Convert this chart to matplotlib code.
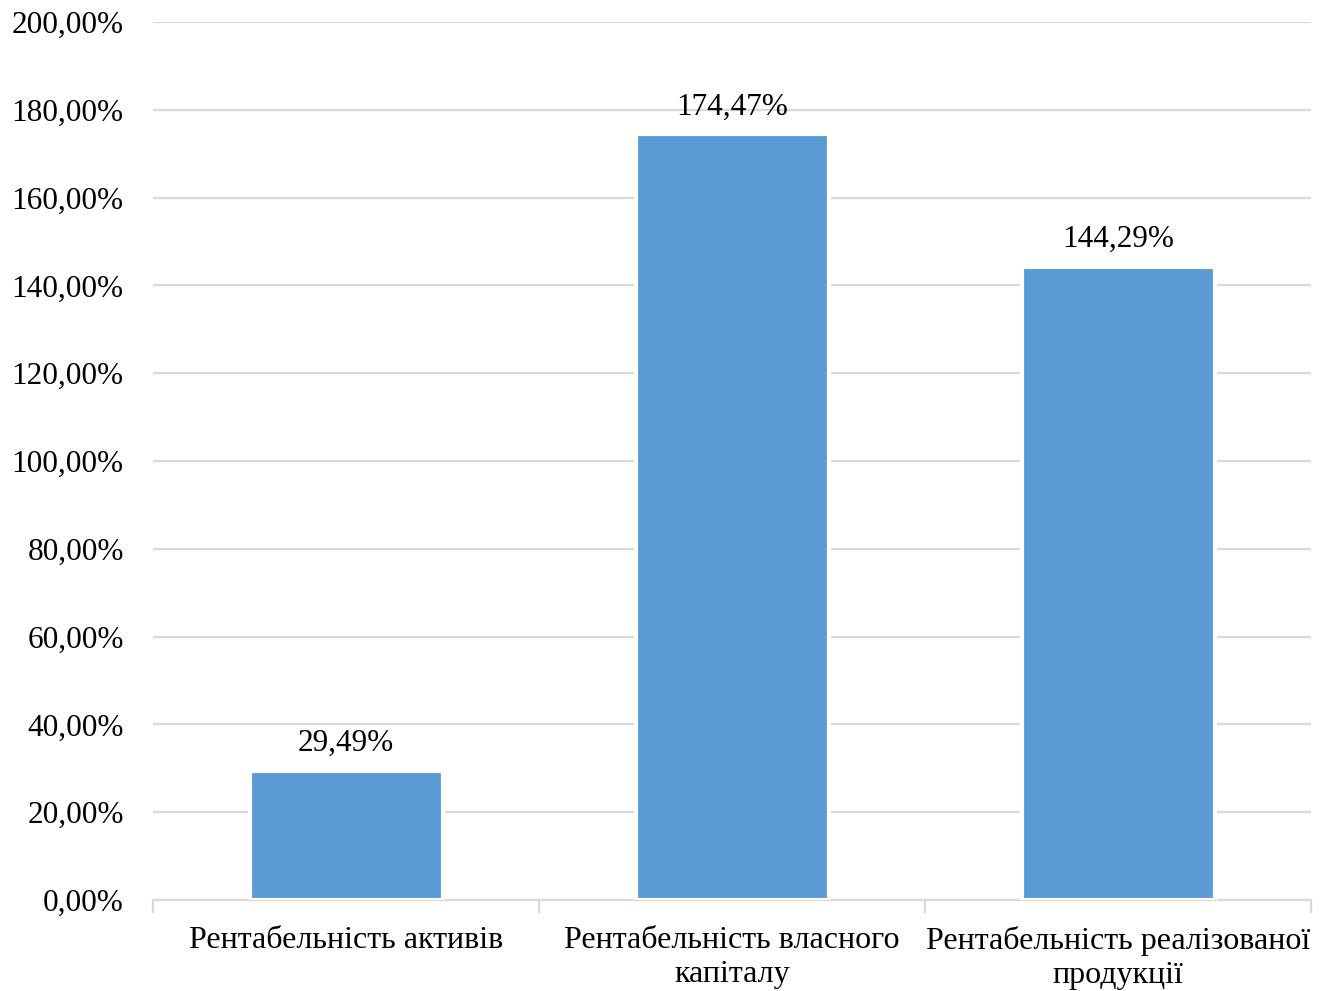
import matplotlib.pyplot as plt
from matplotlib.ticker import FuncFormatter, FixedLocator

categories = ["Рентабельність активів",
              "Рентабельність власного\nкапіталу",
              "Рентабельність реалізованої\nпродукції"]
values = [29.49, 174.47, 144.29]

plt.rcParams['font.family'] = ['Liberation Serif', 'DejaVu Serif']

fig = plt.figure(figsize=(13.27, 9.91), dpi=100)
ax = fig.add_axes([153 / 1327, 1 - 900 / 991, 1158 / 1327, 878 / 991])

x = list(range(len(categories)))
bars = ax.bar(x, values, width=0.5, color='#5b9bd5', edgecolor='white',
              linewidth=3, zorder=3)

for b, v in zip(bars, values):
    ax.text(b.get_x() + b.get_width() / 2, v + 2.8,
            "{:.2f}%".format(v).replace('.', ','),
            ha='center', va='bottom', fontsize=22.5)

ax.set_xlim(-0.5, len(categories) - 0.5)
ax.set_ylim(0, 200)
ax.set_yticks(range(0, 201, 20))
ax.yaxis.set_major_formatter(FuncFormatter(lambda v, p: "{:.2f}%".format(v).replace('.', ',')))
ax.grid(axis='y', color='#d9d9d9', linewidth=1.6, zorder=0)

# category labels centered, tick marks at the boundaries
ax.set_xticks(x)
ax.set_xticklabels(categories, fontsize=23, linespacing=1.2)
ax.xaxis.set_minor_locator(FixedLocator([i - 0.5 for i in range(len(categories) + 1)]))
ax.tick_params(axis='x', which='major', length=0, pad=19)
ax.tick_params(axis='x', which='minor', length=9, width=1.6, color='#d9d9d9')
ax.tick_params(axis='y', length=0, pad=21, labelsize=22.5)

for s in ['top', 'right', 'left']:
    ax.spines[s].set_visible(False)
ax.spines['bottom'].set_color('#d9d9d9')
ax.spines['bottom'].set_linewidth(1.6)

plt.savefig("out.png", dpi=100)
